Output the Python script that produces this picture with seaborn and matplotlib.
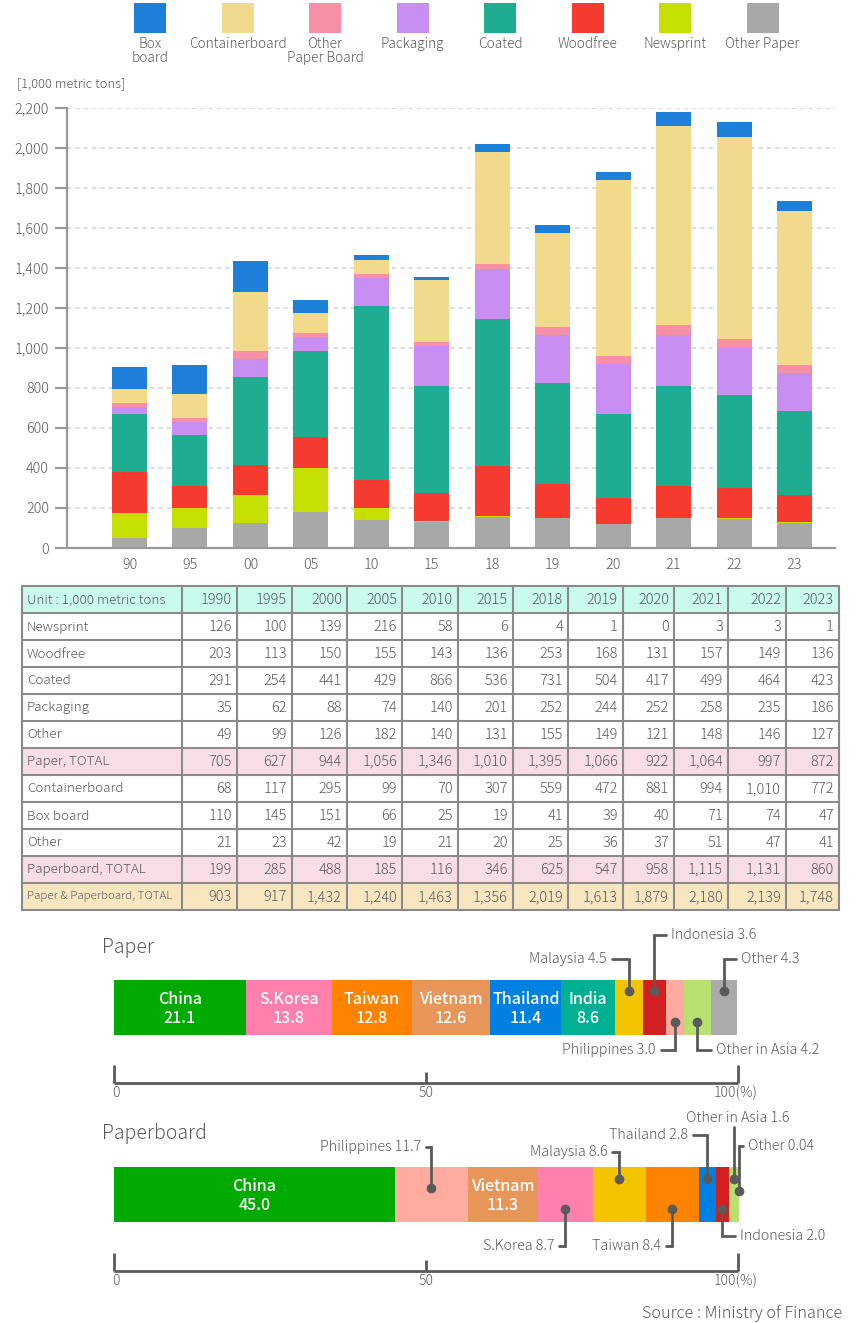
import numpy as np
import matplotlib
matplotlib.use('Agg')
import matplotlib.pyplot as plt
import seaborn as sns
from matplotlib.patches import Rectangle

# ---- data ----
years = ['1990', '1995', '2000', '2005', '2010', '2015', '2018', '2019', '2020', '2021', '2022', '2023']
year_ticks = ['90', '95', '00', '05', '10', '15', '18', '19', '20', '21', '22', '23']

newsprint = [126, 100, 139, 216, 58, 6, 4, 1, 0, 3, 3, 1]
woodfree = [203, 113, 150, 155, 143, 136, 253, 168, 131, 157, 149, 136]
coated = [291, 254, 441, 429, 866, 536, 731, 504, 417, 499, 464, 423]
packaging = [35, 62, 88, 74, 140, 201, 252, 244, 252, 258, 235, 186]
other_paper = [49, 99, 126, 182, 140, 131, 155, 149, 121, 148, 146, 127]
paper_total = [705, 627, 944, 1056, 1346, 1010, 1395, 1066, 922, 1064, 997, 872]
containerboard = [68, 117, 295, 99, 70, 307, 559, 472, 881, 994, 1010, 772]
box_board = [110, 145, 151, 66, 25, 19, 41, 39, 40, 71, 74, 47]
other_board = [21, 23, 42, 19, 21, 20, 25, 36, 37, 51, 47, 41]
board_total = [199, 285, 488, 185, 116, 346, 625, 547, 958, 1115, 1131, 860]
grand_total = [903, 917, 1432, 1240, 1463, 1356, 2019, 1613, 1879, 2180, 2139, 1748]

paper_countries = ['China', 'S.Korea', 'Taiwan', 'Vietnam', 'Thailand', 'India', 'Malaysia',
                   'Indonesia', 'Philippines', 'Other in Asia', 'Other']
paper_share = [21.1, 13.8, 12.8, 12.6, 11.4, 8.6, 4.5, 3.6, 3.0, 4.2, 4.3]

board_countries = ['China', 'Philippines', 'Vietnam', 'S.Korea', 'Malaysia', 'Taiwan', 'Thailand',
                   'Indonesia', 'Other in Asia', 'Other']
board_share = [45.0, 11.7, 11.3, 8.7, 8.6, 8.4, 2.8, 2.0, 1.6, 0.04]

# ---- styles ----
cat_colors = {
    'Box\nboard': '#1e7fd8', 'Containerboard': '#f2da8c', 'Other\nPaper Board': '#f78fa7',
    'Packaging': '#c98ef2', 'Coated': '#1fad92', 'Woodfree': '#f53a30',
    'Newsprint': '#c5e000', 'Other Paper': '#a8a8a8',
}
country_colors = {
    'China': '#00aa00', 'S.Korea': '#ff80ad', 'Taiwan': '#ff8200', 'Vietnam': '#e8955a',
    'Thailand': '#0080e0', 'India': '#00b092', 'Malaysia': '#f5c400', 'Indonesia': '#d11f22',
    'Philippines': '#ffaba0', 'Other in Asia': '#b8e070', 'Other': '#aaaaaa',
}
TXT = '#5a5a5a'
LINE = '#5a5a5a'

sns.set_theme(style='white')
plt.rcParams['font.family'] = ['Noto Sans CJK JP', 'DejaVu Sans']
plt.rcParams['font.weight'] = 'light'

W, H = 860, 1323
fig = plt.figure(figsize=(W / 100, H / 100), dpi=100)


def fax(l, t, r, b):
    return fig.add_axes([l / W, 1 - b / H, (r - l) / W, (b - t) / H])


# canvas in pixel units for legend, table and free texts
cv = fig.add_axes([0, 0, 1, 1])
cv.set_xlim(0, W)
cv.set_ylim(H, 0)
cv.axis('off')

# ---- stacked bar chart ----
ax = fax(67, 107.7, 835, 548)
stack = [
    ('Other Paper', other_paper), ('Newsprint', newsprint), ('Woodfree', woodfree),
    ('Coated', coated), ('Packaging', packaging), ('Other\nPaper Board', other_board),
    ('Containerboard', containerboard), ('Box\nboard', box_board),
]
bottom = np.zeros(len(years))
for name, vals in stack:
    sns.barplot(x=year_ticks, y=vals, bottom=bottom, color=cat_colors[name], saturation=1,
                width=0.58, errorbar=None, ax=ax, linewidth=0)
    bottom += np.array(vals)

ax.set_xlim(-1.034, 11.67)
ax.set_ylim(0, 2200)
ax.set_yticks(range(0, 2201, 200))
ax.yaxis.set_major_formatter(plt.FuncFormatter(lambda v, p: f'{v:,.0f}'))
ax.yaxis.grid(True, color='#dddddd', linestyle=(0, (2, 2)), linewidth=1.5)
ax.set_axisbelow(True)
ax.set_xlabel('')
ax.set_ylabel('')
for s in ['top', 'right']:
    ax.spines[s].set_visible(False)
for s in ['left', 'bottom']:
    ax.spines[s].set_color('#999999')
    ax.spines[s].set_linewidth(1.6)
ax.tick_params(axis='y', left=True, length=9, width=1.5, color='#999999', labelsize=10.3,
               labelcolor=TXT, pad=4)
ax.tick_params(axis='x', length=0, labelsize=10.3, labelcolor=TXT, pad=7)

cv.text(17, 84, '[1,000 metric tons]', fontsize=9.3, color=TXT, va='center')

# legend
legend_order = ['Box\nboard', 'Containerboard', 'Other\nPaper Board', 'Packaging', 'Coated',
                'Woodfree', 'Newsprint', 'Other Paper']
for k, name in enumerate(legend_order):
    cx = 150 + 87.5 * k
    cv.add_patch(Rectangle((cx - 16, 3), 32, 30, color=cat_colors[name], lw=0))
    cv.text(cx, 37, name, ha='center', va='top', fontsize=9.8, color=TXT, linespacing=1.0)

# ---- table ----
col_edges = [22, 182, 237, 292, 347, 402, 458, 513, 568, 623, 674, 728, 786, 839]
row_top, row_h = 586, 27
row_labels = ['Newsprint', 'Woodfree', 'Coated', 'Packaging', 'Other', 'Paper, TOTAL',
              'Containerboard', 'Box board', 'Other', 'Paperboard, TOTAL', 'Paper & Paperboard, TOTAL']
row_vals = [newsprint, woodfree, coated, packaging, other_paper, paper_total,
            containerboard, box_board, other_board, board_total, grand_total]
row_bg = ['white'] * 5 + ['#f9dde4'] + ['white'] * 3 + ['#f9dde4', '#f8e6c0']

rows = [('Unit : 1,000 metric tons', years, '#c9faee')]
for lab, vals, bg in zip(row_labels, row_vals, row_bg):
    rows.append((lab, [f'{v:,}' for v in vals], bg))

for r, (lab, cells, bg) in enumerate(rows):
    y0 = row_top + r * row_h
    cv.add_patch(Rectangle((col_edges[0], y0), col_edges[-1] - col_edges[0], row_h,
                           facecolor=bg, edgecolor='none', zorder=1))
    fs = 9.7
    if r == 0:
        fs = 9.6
    if lab.startswith('Paper & '):
        fs = 8.3
    cv.text(col_edges[0] + 5, y0 + row_h / 2 + 0.5, lab, fontsize=fs, color=TXT, va='center',
            zorder=3)
    for c, txt in enumerate(cells):
        cv.text(col_edges[c + 2] - 5, y0 + row_h / 2 + 0.5, txt, fontsize=10.5, color=TXT,
                ha='right', va='center', zorder=3)
    cv.plot([col_edges[0], col_edges[-1]], [y0, y0], color='#8a8a8a', lw=1.5, zorder=2)
n_rows = len(rows)
cv.plot([col_edges[0], col_edges[-1]], [row_top + n_rows * row_h] * 2, color='#8a8a8a', lw=1.5, zorder=2)
for x in col_edges:
    cv.plot([x, x], [row_top, row_top + n_rows * row_h], color='#8a8a8a', lw=1.5, zorder=2)

# ---- share bars ----
X0, X1 = 114, 738
ppx = (X1 - X0) / 100.0
sb = fig.add_axes([0, 0, 1, 1])
sb.patch.set_alpha(0)
sb.set_xlim(-X0 / ppx, (W - X0) / ppx)
sb.set_ylim(H, 0)
sb.axis('off')

FS_NOTE = 10.3


def share_bar(countries, shares, yc, inside):
    left = np.concatenate([[0], np.cumsum(shares)[:-1]])
    sb.barh([yc] * len(shares), shares, left=left, height=55,
            color=[country_colors[c] for c in countries], linewidth=0)
    centers = {c: l + s / 2 for c, l, s in zip(countries, left, shares)}
    for c, s in zip(countries, shares):
        if c in inside:
            sb.text(centers[c], yc + 1.5, f'{c}\n{s:.1f}', color='white', ha='center', va='center',
                    fontsize=11.5, linespacing=1.1, fontweight='medium')
    return centers


def scale(y_line):
    sb.plot([0, 100], [y_line, y_line], color=LINE, lw=2, solid_capstyle='butt')
    for v, top in [(0, 18), (50, 11), (100, 18)]:
        sb.plot([v, v], [y_line, y_line - top], color=LINE, lw=2, solid_capstyle='butt')
    sb.text(0.4, y_line + 10, '0', ha='center', va='center', fontsize=10, color=TXT)
    sb.text(50, y_line + 10, '50', ha='center', va='center', fontsize=10, color=TXT)
    sb.text(99.6, y_line + 10, '100(%)', ha='center', va='center', fontsize=10, color=TXT)


def callout(xc, y_dot, y_lab, side, label, hlen=11):
    # dot inside the segment, leader up/down, then a short horizontal run to the label
    d = hlen / ppx
    xe = xc - d if side == 'left' else xc + d
    sb.plot([xc, xc, xe], [y_dot, y_lab, y_lab], color=LINE, lw=2, solid_joinstyle='miter')
    sb.plot([xc], [y_dot], 'o', color=LINE, markersize=6)
    gap = 5 / ppx
    if side == 'left':
        sb.text(xe - gap, y_lab, label, ha='right', va='center', fontsize=FS_NOTE, color=TXT)
    else:
        sb.text(xe + gap, y_lab, label, ha='left', va='center', fontsize=FS_NOTE, color=TXT)


def fmt(c, s):
    return f'{c} {s:.2f}' if s < 0.1 else f'{c} {s:.1f}'


# Paper
cv.text(102, 947, 'Paper', fontsize=14, color=TXT, va='center')
pc = share_bar(paper_countries, paper_share, 1007.5,
               ['China', 'S.Korea', 'Taiwan', 'Vietnam', 'Thailand', 'India'])
ps = dict(zip(paper_countries, paper_share))
callout(pc['Malaysia'], 991, 959, 'left', fmt('Malaysia', ps['Malaysia']), 17)
callout(pc['Indonesia'], 991, 935, 'right', fmt('Indonesia', ps['Indonesia']), 12)
callout(pc['Other'], 991, 959, 'right', fmt('Other', ps['Other']), 12)
callout(pc['Philippines'], 1022, 1050, 'left', fmt('Philippines', ps['Philippines']), 14)
callout(pc['Other in Asia'], 1022, 1050, 'right', fmt('Other in Asia', ps['Other in Asia']), 14)
scale(1083)

# Paperboard
cv.text(102, 1133, 'Paperboard', fontsize=14, color=TXT, va='center')
bc = share_bar(board_countries, board_share, 1194.5, ['China', 'Vietnam'])
bs = dict(zip(board_countries, board_share))
callout(bc['Philippines'], 1188, 1147, 'left', fmt('Philippines', bs['Philippines']), 5)
callout(bc['Malaysia'], 1179, 1152, 'left', fmt('Malaysia', bs['Malaysia']), 7)
callout(bc['Thailand'], 1179, 1135, 'left', fmt('Thailand', bs['Thailand']), 14)
callout(bc['Other'], 1191, 1146, 'right', fmt('Other', bs['Other']), 4)
callout(bc['S.Korea'], 1209, 1246, 'left', fmt('S.Korea', bs['S.Korea']), 6)
callout(bc['Taiwan'], 1209, 1246, 'left', fmt('Taiwan', bs['Taiwan']), 6)
callout(bc['Indonesia'], 1209, 1236, 'right', fmt('Indonesia', bs['Indonesia']), 13)
# Other in Asia: straight leader up to a centred label
xa = bc['Other in Asia']
sb.plot([xa, xa], [1179, 1127], color=LINE, lw=2)
sb.plot([xa], [1179], 'o', color=LINE, markersize=6)
sb.text(xa + 0.6, 1118, fmt('Other in Asia', bs['Other in Asia']), ha='center', va='center',
        fontsize=FS_NOTE, color=TXT)
scale(1271)

cv.text(842, 1313, 'Source : Ministry of Finance', ha='right', va='center', fontsize=11.7, color=TXT)

fig.savefig('out.png', dpi=100)
